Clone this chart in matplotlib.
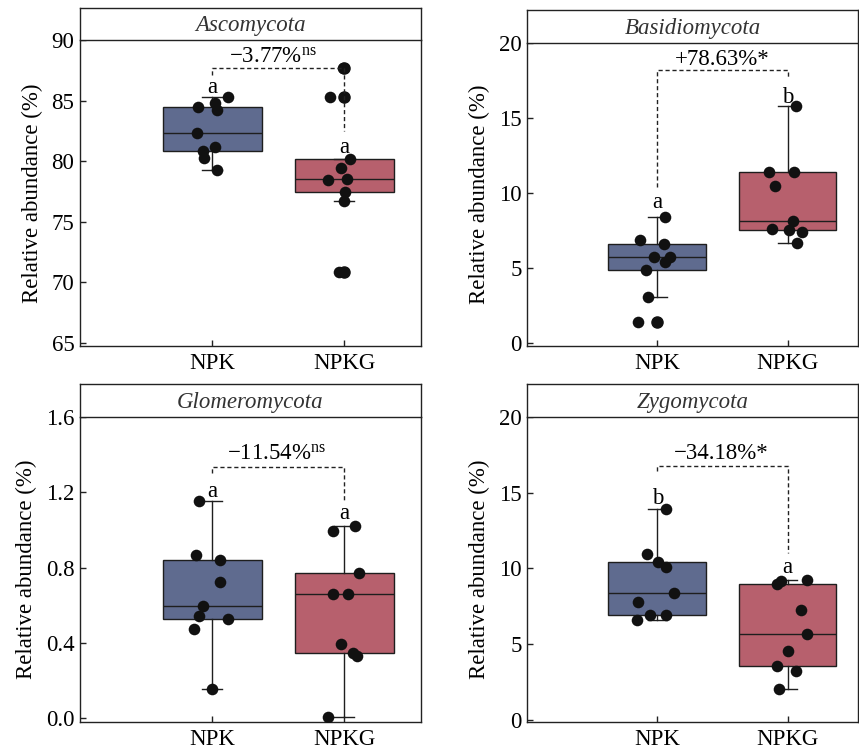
import matplotlib
matplotlib.use("Agg")
import matplotlib.pyplot as plt
import numpy as np

plt.rcParams['font.family'] = ['Liberation Serif', 'DejaVu Serif']
plt.rcParams['mathtext.fontset'] = 'custom'
plt.rcParams['mathtext.rm'] = 'Liberation Serif'
plt.rcParams['mathtext.it'] = 'Liberation Serif:italic'

groups = ["NPK", "NPKG"]
phyla = ["Ascomycota", "Basidiomycota", "Glomeromycota", "Zygomycota"]

# values (9 replicates per group)
asc_npk = [85.33, 84.45, 84.78, 84.23, 82.31, 81.21, 80.85, 80.25, 79.29]
asc_npkg = [87.66, 85.33, 80.16, 79.42, 78.54, 78.43, 77.42, 76.68, 70.85]
bas_npk = [8.43, 6.87, 6.63, 5.71, 5.74, 5.39, 4.88, 3.04, 1.37]
bas_npkg = [15.79, 11.42, 11.42, 10.49, 8.12, 7.61, 7.54, 7.43, 6.65]
glo_npk = [1.153, 0.866, 0.843, 0.723, 0.596, 0.545, 0.525, 0.472, 0.156]
glo_npkg = [1.022, 0.994, 0.769, 0.659, 0.662, 0.392, 0.345, 0.331, 0.005]
zyg_npk = [13.89, 10.96, 10.43, 10.08, 8.38, 7.78, 6.90, 6.95, 6.57]
zyg_npkg = [9.19, 8.97, 9.22, 7.23, 5.69, 4.56, 3.57, 3.20, 2.03]

# horizontal jitter of each point
asc_npk_jit = [0.118, -0.108, 0.025, 0.035, -0.113, 0.018, -0.070, -0.063, 0.038]
asc_npkg_jit = [-0.008, -0.106, 0.045, -0.025, 0.018, -0.126, 0.005, 0.0, -0.038]
bas_npk_jit = [0.056, -0.132, 0.051, -0.025, 0.094, 0.056, -0.084, -0.074, -0.145]
bas_npkg_jit = [0.064, -0.142, 0.048, -0.097, 0.038, -0.122, 0.010, 0.112, 0.069]
glo_npk_jit = [-0.096, -0.126, 0.060, 0.060, -0.070, -0.100, 0.118, -0.141, 0.0]
glo_npkg_jit = [0.081, -0.083, 0.113, -0.083, 0.025, -0.025, 0.063, 0.096, -0.126]
zyg_npk_jit = [0.069, -0.076, 0.008, 0.064, 0.127, -0.145, -0.059, 0.069, -0.153]
zyg_npkg_jit = [-0.051, -0.079, 0.145, 0.099, 0.150, 0.005, -0.079, 0.064, -0.064]

changes = ["\u22123.77%$^{\\mathrm{ns}}$", "+78.63%*", "\u221211.54%$^{\\mathrm{ns}}$", "\u221234.18%*"]
letters = [("a", "a"), ("a", "b"), ("a", "a"), ("b", "a")]
yticks_list = [[65, 70, 75, 80, 85, 90], [0, 5, 10, 15, 20],
               [0.0, 0.4, 0.8, 1.2, 1.6], [0, 5, 10, 15, 20]]
yticklabels_list = [["65", "70", "75", "80", "85", "90"], ["0", "5", "10", "15", "20"],
                    ["0.0", "0.4", "0.8", "1.2", "1.6"], ["0", "5", "10", "15", "20"]]

data = [(asc_npk, asc_npkg), (bas_npk, bas_npkg), (glo_npk, glo_npkg), (zyg_npk, zyg_npkg)]
jits = [(asc_npk_jit, asc_npkg_jit), (bas_npk_jit, bas_npkg_jit),
        (glo_npk_jit, glo_npkg_jit), (zyg_npk_jit, zyg_npkg_jit)]

# layout / annotation styling
W, H = 859, 751
panels = [  # left, right, strip_top, data_top, data_bottom (pixels)
    (80, 421, 8, 40, 346),
    (527, 858, 10, 43, 346),
    (80, 421, 384, 417, 722),
    (527, 858, 384, 417, 722),
]
ylims = [(64.75, 90), (-0.2, 20), (-0.02, 1.6), (-0.15, 20)]
xlims = [(0, 2.58), (0, 2.54), (0, 2.58), (0, 2.54)]
brackets = [(87.7, 87.1, 82.45), (18.18, 10.42, 17.74), (1.335, 1.30, 1.158), (16.76, 16.43, 11.03)]
letter_y = [(85.6, 80.7), (9.0, 16.0), (1.175, 1.06), (14.25, 9.7)]
label_pos = [(1.46, 88.15), (1.5, 18.55), (1.49, 1.375), (1.49, 17.2)]

box_colors = ["#5F6B8F", "#B7606D"]
FS = 16.5

fig = plt.figure(figsize=(W / 100, H / 100), dpi=100)

for i in range(4):
    l, r, st, dt, db = panels[i]
    ax = fig.add_axes([l / W, 1 - db / H, (r - l) / W, (db - dt) / H])
    sax = fig.add_axes([l / W, 1 - dt / H, (r - l) / W, (dt - st) / H])
    sax.set_xticks([]); sax.set_yticks([])
    for sp in sax.spines.values():
        sp.set_linewidth(1.0); sp.set_color("#222222")
    sax.text(0.5, 0.45, phyla[i], ha="center", va="center", fontsize=FS, style="italic",
             transform=sax.transAxes, color="#333333")

    d1, d2 = data[i]
    bp = ax.boxplot([d1, d2], positions=[1, 2], widths=0.75, capwidths=0.15,
                    patch_artist=True, whis=1.5,
                    medianprops=dict(color="#1e1e1e", linewidth=1.0),
                    boxprops=dict(edgecolor="#1e1e1e", linewidth=1.0),
                    whiskerprops=dict(color="#1e1e1e", linewidth=1.0),
                    capprops=dict(color="#1e1e1e", linewidth=1.0),
                    flierprops=dict(marker="o", markerfacecolor="#111111",
                                    markeredgecolor="#111111", markersize=8))
    for patch, c in zip(bp["boxes"], box_colors):
        patch.set_facecolor(c)
    for g, (vals, jit) in enumerate(zip(data[i], jits[i])):
        ax.scatter(np.array(jit) + g + 1, vals, s=70, color="#111111", zorder=5, linewidths=0)

    yh, yl, yr = brackets[i]
    ax.plot([1, 1, 2, 2], [yl, yh, yh, yr], ls=(0, (3, 2)), color="#222222", lw=1.0, zorder=6)
    ax.text(1, letter_y[i][0], letters[i][0], ha="center", va="baseline", fontsize=FS)
    ax.text(2, letter_y[i][1], letters[i][1], ha="center", va="baseline", fontsize=FS)
    ax.text(label_pos[i][0], label_pos[i][1], changes[i], ha="center", va="baseline", fontsize=FS)

    ax.set_xlim(*xlims[i])
    ax.set_ylim(*ylims[i])
    ax.set_xticks([1, 2])
    ax.set_xticklabels(groups, fontsize=FS)
    ax.set_yticks(yticks_list[i])
    ax.set_yticklabels(yticklabels_list[i], fontsize=FS)
    ax.tick_params(direction="in", length=4, width=1.0, color="#222222", pad=5)
    ax.tick_params(axis="y", pad=4)
    for sp in ax.spines.values():
        sp.set_linewidth(1.0); sp.set_color("#222222")
    ax.spines["top"].set_visible(False)
    ax.set_ylabel("Relative abundance (%)", fontsize=FS, labelpad=6)

fig.savefig("out.png", dpi=100)
